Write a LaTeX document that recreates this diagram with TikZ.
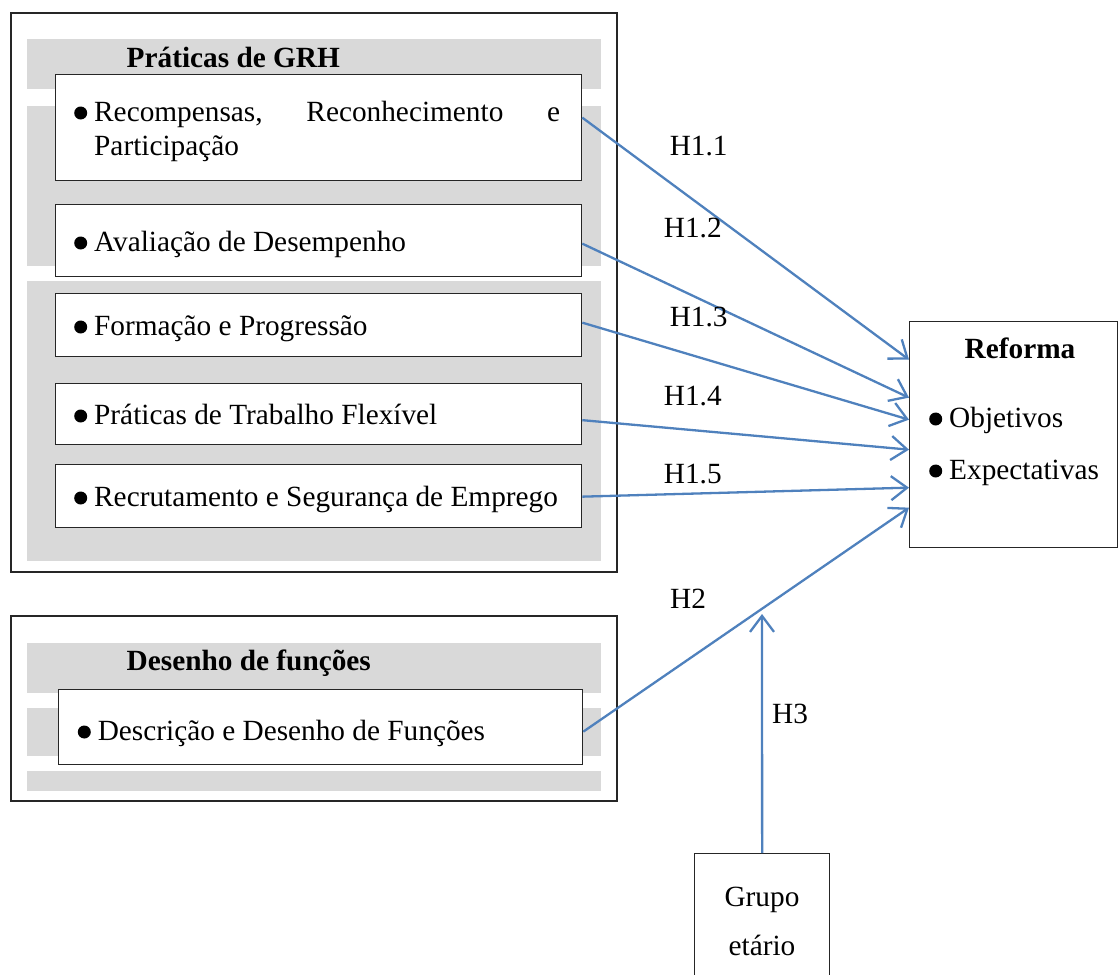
\documentclass[tikz,border=0pt]{standalone}
\usepackage{fontspec}
\setmainfont{Liberation Serif}
\usetikzlibrary{arrows.meta}
\definecolor{arrowblue}{RGB}{79,129,189}
\definecolor{bandgray}{RGB}{217,217,217}
\newcommand\bul{\llap{\tikz[baseline=0pt]\fill[black] (0pt,8pt) circle (6.5pt);\hspace{7pt}}}
\begin{document}
\begin{tikzpicture}[x=1pt,y=-1pt,
  outerbox/.style={draw=black!85, line width=1.3pt},
  band/.style={fill=bandgray, draw=none},
  itembox/.style={draw=black!85, fill=white, line width=1.3pt, inner sep=0pt, anchor=north west},
  txt/.style={anchor=base west, inner sep=0pt, font=\fontsize{29.3}{34}\selectfont},
  ttl/.style={txt, font=\fontsize{29.3}{34}\selectfont\bfseries},
  conn/.style={draw=arrowblue, line width=2.3pt, -{Straight Barb[length=16pt,width=24pt]}}
]
\path[use as bounding box] (0,0) rectangle (1118,974);
\clip (0,0) rectangle (1118,974);

% ---- Práticas de GRH ----
\draw[outerbox] (11,13) rectangle (617,572);
\fill[band] (27,39) rectangle (601,89);
\fill[band] (27,106) rectangle (601,266);
\fill[band] (27,281) rectangle (601,561);
\node[ttl] (t1) at (126.5,67) {Práticas de GRH};

\node[itembox, minimum width=526pt, minimum height=106pt] (r1) at (55,74) {};
\node[itembox, minimum width=526pt, minimum height=72pt] (r2) at (55,204) {};
\node[itembox, minimum width=526pt, minimum height=63pt] (r3) at (55,293) {};
\node[itembox, minimum width=526pt, minimum height=61pt] (r4) at (55,383) {};
\node[itembox, minimum width=526pt, minimum height=63pt] (r5) at (55,464) {};

\node[txt] (r1a) at (94,121) {\bul\hbox to 466pt{Recompensas,\hfill Reconhecimento\hfill e}};
\node[txt] (r1b) at (94,155) {Participação};
\node[txt] (r2t) at (94,251) {\bul Avaliação de Desempenho};
\node[txt] (r3t) at (94,335) {\bul Formação e Progressão};
\node[txt] (r4t) at (94,424) {\bul Práticas de Trabalho Flexível};
\node[txt] (r5t) at (94,506) {\bul Recrutamento e Segurança de Emprego};

% ---- Desenho de funções ----
\draw[outerbox] (11,616) rectangle (617,801);
\fill[band] (27,643) rectangle (601,693);
\fill[band] (27,708) rectangle (601,756);
\fill[band] (27,771) rectangle (601,791);
\node[ttl] (t2) at (126.5,670) {Desenho de funções};
\node[itembox, minimum width=524pt, minimum height=75pt] (desc) at (58,689) {};
\node[txt] (desct) at (97.6,740) {\bul Descrição e Desenho de Funções};

% ---- Reforma ----
\node[itembox, minimum width=208pt, minimum height=226pt] (ref) at (909,321) {};
\node[ttl, anchor=base] (reft) at (1020,358) {Reforma};
\node[txt] (obj) at (949,427) {\bul Objetivos};
\node[txt] (exp) at (949,479) {\bul Expectativas};

% ---- Grupo etário ----
\node[itembox, minimum width=135pt, minimum height=140pt] (grp) at (694,853) {};
\node[txt, anchor=base] (g1) at (762,906) {Grupo};
\node[txt, anchor=base] (g2) at (762,955) {etário};

% ---- connectors ----
\draw[conn] ([yshift=10pt]r1.east) -- ([yshift=75pt]ref.west);
\draw[conn] ([yshift=-3pt]r2.east) -- ([yshift=37pt]ref.west);
\draw[conn] ([yshift=2.5pt]r3.east) -- ([yshift=15pt]ref.west);
\draw[conn] ([yshift=-6pt]r4.east) -- ([yshift=-15pt]ref.west);
\draw[conn] ([yshift=-0.5pt]r5.east) -- ([yshift=-53pt]ref.west);
\draw[conn] ([yshift=-4.5pt]desc.east) -- ([yshift=-73pt]ref.west);
\coordinate (h3tip) at (762,614);
\draw[conn] (grp.north) -- (h3tip);

% ---- labels ----
\node[txt] (l11) at (669.6,155) {H1.1};
\node[txt] (l12) at (663.7,237.7) {H1.2};
\node[txt] (l13) at (669.6,326.7) {H1.3};
\node[txt] (l14) at (663.7,405) {H1.4};
\node[txt] (l15) at (663.7,483) {H1.5};
\node[txt] (l2) at (670,608) {H2};
\node[txt] (l3) at (772,723) {H3};
\end{tikzpicture}
\end{document}
